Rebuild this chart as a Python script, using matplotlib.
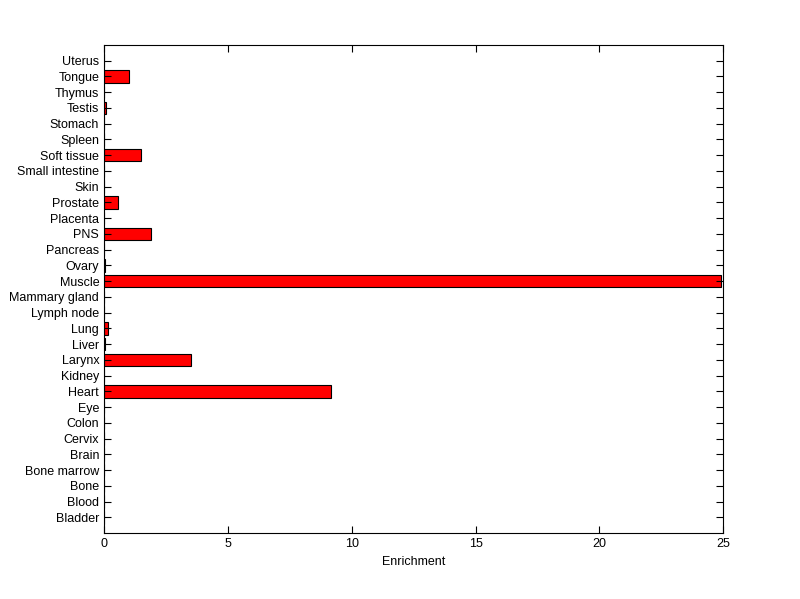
import numpy as np
import matplotlib
matplotlib.use('Agg')
import matplotlib.pyplot as plt

plt.rcParams['font.family'] = ['Liberation Sans', 'DejaVu Sans']

# tissues, bottom to top
tissues = ['Bladder', 'Blood', 'Bone', 'Bone marrow', 'Brain', 'Cervix', 'Colon',
           'Eye', 'Heart', 'Kidney', 'Larynx', 'Liver', 'Lung', 'Lymph node',
           'Mammary gland', 'Muscle', 'Ovary', 'Pancreas', 'PNS', 'Placenta',
           'Prostate', 'Skin', 'Small intestine', 'Soft tissue', 'Spleen',
           'Stomach', 'Testis', 'Thymus', 'Tongue', 'Uterus']
enrichment = [0, 0, 0, 0, 0, 0, 0,
              0, 9.15, 0, 3.52, 0.03, 0.17, 0,
              0, 24.9, 0.04, 0, 1.9, 0,
              0.57, 0, 0, 1.5, 0,
              0, 0.08, 0, 1.02, 0]

fig = plt.figure(figsize=(8, 5.99), dpi=100)
ax = fig.add_axes([0.13, 0.110, 0.774, 0.815])

pos = np.arange(1, len(tissues) + 1)
ax.barh(pos, enrichment, height=0.8, color='red', edgecolor='black', linewidth=0.8)

ax.set_xlim(0, 25)
ax.set_ylim(0, len(tissues) + 1)
ax.set_yticks(pos)
ax.set_yticklabels(tissues)
ax.set_xticks([0, 5, 10, 15, 20, 25])
ax.tick_params(axis='both', direction='in', top=True, right=True,
               labelsize=9, length=5, width=0.8)
ax.set_xlabel('Enrichment', fontsize=9, labelpad=4)
for s in ax.spines.values():
    s.set_linewidth(0.8)

fig.savefig('out.png', dpi=100)
